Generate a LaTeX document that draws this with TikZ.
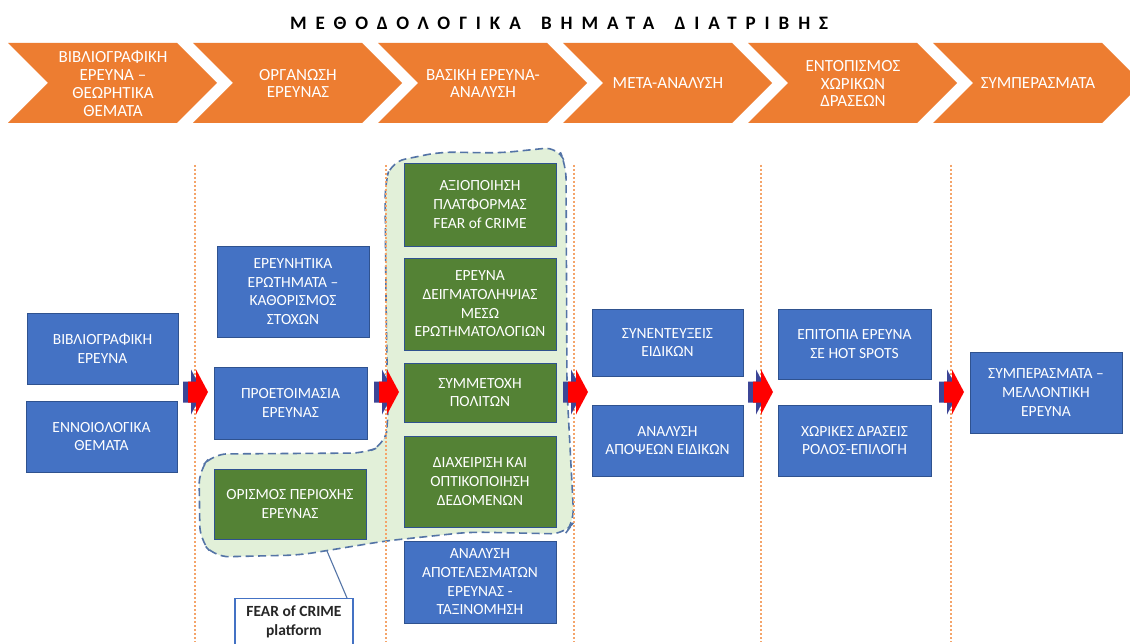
\documentclass[tikz,border=0pt]{standalone}
\usepackage{fontspec}
\setmainfont{Carlito}
\newfontfamily\titlefamily[LetterSpace=47]{Carlito}
\definecolor{chevorange}{HTML}{ED7D31}
\definecolor{boxblue}{HTML}{4472C4}
\definecolor{boxedge}{HTML}{2F528F}
\definecolor{boxgreen}{HTML}{548235}
\definecolor{blobfill}{HTML}{E2F0D9}
\definecolor{blobedge}{HTML}{5474A6}
\definecolor{guideorange}{HTML}{F4A46A}
\definecolor{arrowred}{HTML}{FF0000}
\definecolor{arrownavy}{HTML}{3C4596}
\definecolor{darktext}{HTML}{262626}
\newcommand\chevfont{\fontsize{17}{17.8}\selectfont}
\newcommand\boxfont{\fontsize{15.5}{18.7}\selectfont}
\newcommand\callfont{\fontsize{15.5}{19}\selectfont\bfseries}
\newcommand\titlestyle{\titlefamily\fontsize{19}{22}\selectfont\bfseries}
\newcommand\redarrow[2]{%
  \fill[arrownavy] (#1,#2-10.5) -- (#1+8,#2-10.5) -- (#1+8,#2-22.5) -- (#1+20,#2) -- (#1+8,#2+22.5) -- (#1+8,#2+10.5) -- (#1,#2+10.5) -- cycle;
  \fill[arrowred] (#1+5,#2-10.5) -- (#1+13,#2-10.5) -- (#1+13,#2-22.5) -- (#1+25,#2) -- (#1+13,#2+22.5) -- (#1+13,#2+10.5) -- (#1+5,#2+10.5) -- cycle;
}
\tikzset{
  chev/.style={fill=chevorange},
  chevtext/.style={text=white, align=center, font=\chevfont, inner sep=0pt},
  bbox/.style={rectangle, fill=boxblue, draw=boxedge, line width=0.9pt, text=white, align=center, font=\boxfont, inner sep=0pt},
  gbox/.style={bbox, fill=boxgreen},
  blob/.style={fill=blobfill, draw=blobedge, line width=1.6pt, dash pattern=on 8pt off 4.5pt, rounded corners=14pt},
  guide/.style={draw=guideorange, line width=1.5pt, dash pattern=on 1.8pt off 2.2pt},
  callbox/.style={rectangle, fill=white, draw=boxblue, line width=1.1pt, minimum width=118pt, minimum height=70pt, inner sep=0pt},
  calltext/.style={align=center, font=\callfont, text=darktext, inner sep=0pt},
  callline/.style={draw=blobedge, line width=1.1pt},
  titletext/.style={font=\titlestyle, inner sep=0pt}
}
\begin{document}
\begin{tikzpicture}[x=1pt,y=-1pt]
\useasboundingbox (0,0) rectangle (1130,644);
\fill[white] (0,0) rectangle (1130,644);

% title
\node[titletext, anchor=west] (title) at (290,23) {ΜΕΘΟΔΟΛΟΓΙΚΑ\hspace{7pt} ΒΗΜΑΤΑ\hspace{7pt} ΔΙΑΤΡΙΒΗΣ};

% chevrons
\foreach \L in {8,193,378,563,748,933} {
  \fill[chev] (\L,43) -- (\L+169,43) -- (\L+209,83) -- (\L+169,123) -- (\L,123) -- (\L+40,83) -- cycle;
}
\node[chevtext] (c1) at (113,83.5) {ΒΙΒΛΙΟΓΡΑΦΙΚΗ\\ΕΡΕΥΝΑ –\\ΘΕΩΡΗΤΙΚΑ\\ΘΕΜΑΤΑ};
\node[chevtext] (c2) at (298,83.5) {ΟΡΓΑΝΩΣΗ\\ΕΡΕΥΝΑΣ};
\node[chevtext] (c3) at (483,83.5) {ΒΑΣΙΚΗ ΕΡΕΥΝΑ-\\ΑΝΑΛΥΣΗ};
\node[chevtext] (c4) at (668,83.5) {ΜΕΤΑ-ΑΝΑΛΥΣΗ};
\node[chevtext] (c5) at (853,83.5) {ΕΝΤΟΠΙΣΜΟΣ\\ΧΩΡΙΚΩΝ\\ΔΡΑΣΕΩΝ};
\node[chevtext] (c6) at (1038,83.5) {ΣΥΜΠΕΡΑΣΜΑΤΑ};

% green blob
\path[blob] (386,300) -- (385,185) -- (391,162) -- (440,152) -- (500,153) -- (558,147) -- (566,165) -- (567,390) -- (574,522) -- (565,534) -- (470,532) -- (385,541) -- (300,555) -- (215,557) -- (200,540) -- (199,470) -- (213,454) -- (365,453) -- (384,445) -- (388,425) -- cycle;

% guide lines
\foreach \gx in {195,386,574,761,951} {
  \draw[guide] (\gx,165) -- (\gx,642);
}

% column 1
\node[bbox, minimum width=151pt, minimum height=71pt] (b1) at (102.5,348.5) {ΒΙΒΛΙΟΓΡΑΦΙΚΗ\\ΕΡΕΥΝΑ};
\node[bbox, minimum width=151pt, minimum height=71pt] (b2) at (101.5,436.5) {ΕΝΝΟΙΟΛΟΓΙΚΑ\\ΘΕΜΑΤΑ};
% column 2
\node[bbox, minimum width=152pt, minimum height=91pt] (b3) at (293,291.5) {ΕΡΕΥΝΗΤΙΚΑ\\ΕΡΩΤΗΜΑΤΑ –\\ΚΑΘΟΡΙΣΜΟΣ\\ΣΤΟΧΩΝ};
\node[bbox, minimum width=153pt, minimum height=72pt] (b4) at (290.5,403) {ΠΡΟΕΤΟΙΜΑΣΙΑ\\ΕΡΕΥΝΑΣ};
\node[gbox, minimum width=152pt, minimum height=70pt] (g1) at (290,504) {ΟΡΙΣΜΟΣ ΠΕΡΙΟΧΗΣ\\ΕΡΕΥΝΑΣ};
% column 3
\node[gbox, minimum width=152pt, minimum height=83pt] (g2) at (480,204.5) {ΑΞΙΟΠΟΙΗΣΗ\\ΠΛΑΤΦΟΡΜΑΣ\\FEAR of CRIME};
\node[gbox, minimum width=152pt, minimum height=92pt] (g3) at (480,304) {ΕΡΕΥΝΑ\\ΔΕΙΓΜΑΤΟΛΗΨΙΑΣ\\ΜΕΣΩ\\ΕΡΩΤΗΜΑΤΟΛΟΓΙΩΝ};
\node[gbox, minimum width=152pt, minimum height=59pt] (g4) at (480,392.5) {ΣΥΜΜΕΤΟΧΗ\\ΠΟΛΙΤΩΝ};
\node[gbox, minimum width=152pt, minimum height=91pt] (g5) at (480,481.5) {ΔΙΑΧΕΙΡΙΣΗ ΚΑΙ\\ΟΠΤΙΚΟΠΟΙΗΣΗ\\ΔΕΔΟΜΕΝΩΝ};
\node[bbox, minimum width=152pt, minimum height=82pt] (b5) at (480,582) {ΑΝΑΛΥΣΗ\\ΑΠΟΤΕΛΕΣΜΑΤΩΝ\\ΕΡΕΥΝΑΣ -\\ΤΑΞΙΝΟΜΗΣΗ};
% column 4
\node[bbox, minimum width=151pt, minimum height=67pt] (b6) at (667.5,342.5) {ΣΥΝΕΝΤΕΥΞΕΙΣ\\ΕΙΔΙΚΩΝ};
\node[bbox, minimum width=151pt, minimum height=71pt] (b7) at (667.5,440.5) {ΑΝΑΛΥΣΗ\\ΑΠΟΨΕΩΝ ΕΙΔΙΚΩΝ};
% column 5
\node[bbox, minimum width=153pt, minimum height=70pt] (b8) at (854.5,344) {ΕΠΙΤΟΠΙΑ ΕΡΕΥΝΑ\\ΣΕ HOT SPOTS};
\node[bbox, minimum width=153pt, minimum height=71pt] (b9) at (854.5,440.5) {ΧΩΡΙΚΕΣ ΔΡΑΣΕΙΣ\\ΡΟΛΟΣ-ΕΠΙΛΟΓΗ};
% column 6
\node[bbox, minimum width=152pt, minimum height=81pt] (b10) at (1046,392.5) {ΣΥΜΠΕΡΑΣΜΑΤΑ –\\ΜΕΛΛΟΝΤΙΚΗ\\ΕΡΕΥΝΑ};

% block arrows
\foreach \ax in {183,374,563,748,939} {
  \redarrow{\ax}{392}
}

% callout
\node[callbox, anchor=north] (cb) at (294,598) {};
\node[calltext] (ct) at (294,622) {FEAR of CRIME\\platform};
\coordinate (cpt) at (327,551);
\coordinate (cq) at (347,598);
\draw[callline] (cpt) -- (cq);
\end{tikzpicture}
\end{document}
